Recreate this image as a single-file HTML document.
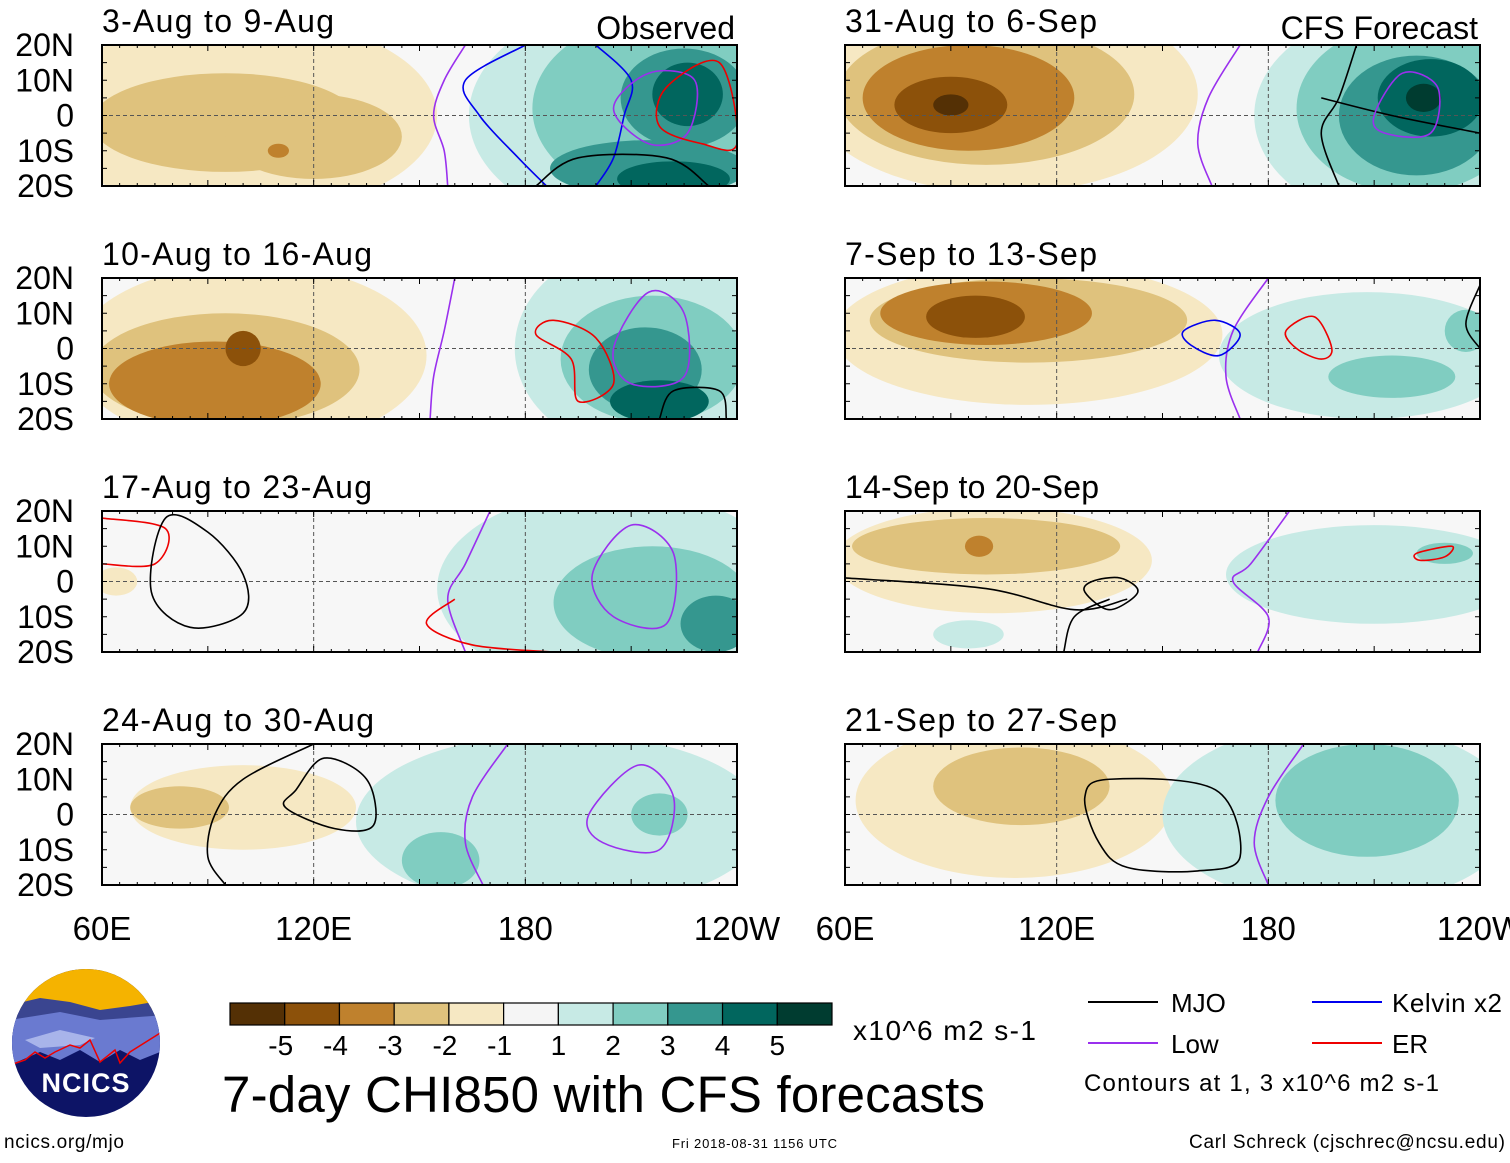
<!DOCTYPE html>
<html><head><meta charset="utf-8"><style>
html,body{margin:0;padding:0;background:#fff;}
svg text{font-family:"Liberation Sans",sans-serif;}
</style></head><body>
<svg id="chart" width="1510" height="1158" viewBox="0 0 1510 1158" xmlns="http://www.w3.org/2000/svg">
<defs id="defs"></defs>
<g id="panels"></g>

<g font-size="33" text-anchor="middle" id="lonlabels"></g>

<g>
  <clipPath id="logoclip"><circle cx="86" cy="1043" r="74"/></clipPath>
  <g clip-path="url(#logoclip)">
    <rect x="10" y="965" width="155" height="160" fill="#0d1466"/>
    <rect x="10" y="965" width="155" height="45" fill="#f5b300"/>
    <path d="M10 1005 L40 998 L70 1002 L100 1010 L130 1006 L165 1000 L165 1040 L10 1050Z" fill="#3a4590"/>
    <path d="M10 1020 L60 1012 L100 1020 L165 1015 L165 1050 L140 1060 L120 1050 L100 1062 L80 1050 L60 1060 L40 1052 L10 1065Z" fill="#6a7ad0"/>
    <path d="M25 1040 L60 1030 L95 1038 L80 1045 L40 1048Z" fill="#a8b4ea"/>
    <polyline points="10,1065 25,1060 35,1052 45,1058 55,1052 70,1045 80,1048 90,1040 100,1062 115,1050 120,1063 130,1052 165,1030" fill="none" stroke="#e00" stroke-width="1.5"/>
  </g>
  <text x="86" y="1092" font-size="27" font-weight="bold" fill="#fff" text-anchor="middle" letter-spacing="1">NCICS</text>
</g>
<text x="4" y="1148" font-size="19" textLength="120">ncics.org/mjo</text>

<g id="colorbar"></g>
<text x="853" y="1040" font-size="28" textLength="183">x10^6 m2 s-1</text>
<text x="222" y="1112" font-size="51" textLength="763">7-day CHI850 with CFS forecasts</text>
<text x="672" y="1148" font-size="13" textLength="165">Fri 2018-08-31 1156 UTC</text>
<text x="1189" y="1148" font-size="19" textLength="316">Carl Schreck (cjschrec@ncsu.edu)</text>

<g font-size="26">
  <g><line x1="1088" y1="1002" x2="1158" y2="1002" stroke="#000" stroke-width="2"/><text x="1171" y="1012">MJO</text></g>
  <g><line x1="1312" y1="1002" x2="1382" y2="1002" stroke="#0000ee" stroke-width="2"/><text x="1392" y="1012" textLength="110">Kelvin x2</text></g>
  <g><line x1="1088" y1="1043" x2="1158" y2="1043" stroke="#9a30ee" stroke-width="2"/><text x="1171" y="1053">Low</text></g>
  <g><line x1="1312" y1="1043" x2="1382" y2="1043" stroke="#ee0000" stroke-width="2"/><text x="1392" y="1053">ER</text></g>
  <text x="1084" y="1091" font-size="24" textLength="355">Contours at 1, 3 x10^6 m2 s-1</text>
</g>
</svg>
<script>
const levelColors = {"-5":"#543005","-4":"#8c510a","-3":"#bf812d","-2":"#dfc27d","-1":"#f6e8c3","1":"#c7eae5","2":"#80cdc1","3":"#35978f","4":"#01665e","5":"#003c30"};
const colorbarColors = ["#543005","#8c510a","#bf812d","#dfc27d","#f6e8c3","#f5f5f5","#c7eae5","#80cdc1","#35978f","#01665e","#003c30"];
const colorbarTicks = ["-5","-4","-3","-2","-1","1","2","3","4","5"];
const latTicks = ["20N","10N","0","10S","20S"];
const lonTicks = ["60E","120E","180","120W"];
const panelTitles = ["3-Aug to 9-Aug","10-Aug to 16-Aug","17-Aug to 23-Aug","24-Aug to 30-Aug","31-Aug to 6-Sep","7-Sep to 13-Sep","14-Sep to 20-Sep","21-Sep to 27-Sep"];
const titleWidths = [232,270,270,272,252,252,254,272];
// blobs: [lon, lat, rxDeg, ryDeg, level]
const blobs1 = [[100,0,55,28,-1],[95,-2,38,14,-2],[120,-6,25,12,-2],[110,-10,3,2,-3],[212,0,48,32,1],[218,2,36,26,2],[225,5,18,14,3],[215,-15,28,8,3],[222,-18,16,5,4],[226,6,10,9,4]];
const blobs2 = [[102,-2,50,26,-1],[95,-6,38,16,-2],[92,-10,30,12,-3],[100,0,5,5,-4],[215,0,38,30,1],[216,-3,26,18,2],[214,-6,16,12,3],[218,-15,14,6,4]];
const blobs3 = [[64,0,6,4,-1],[205,-2,50,28,1],[216,-6,28,16,2],[234,-12,10,8,3]];
const blobs4 = [[100,2,32,12,-1],[82,2,14,6,-2],[190,-2,58,25,1],[218,0,8,6,2],[156,-13,11,8,2]];
const blobs5 = [[105,6,55,28,-1],[100,6,42,20,-2],[95,5,30,15,-3],[90,3,16,8,-4],[90,3,5,3,-5],[218,0,42,30,1],[220,2,32,24,2],[222,0,22,17,3],[226,5,15,11,4],[224,5,5,4,5]];
const blobs6 = [[112,4,55,20,-1],[112,8,45,12,-2],[100,10,30,9,-3],[97,9,14,6,-4],[208,-2,42,18,1],[215,-8,18,6,2],[236,5,6,6,2]];
const blobs7 = [[102,6,45,15,-1],[100,10,38,8,-2],[98,10,4,3,-3],[210,2,42,14,1],[230,8,8,3,2],[95,-15,10,4,1]];
const blobs8 = [[108,4,45,22,-1],[110,8,25,11,-2],[200,0,50,26,1],[208,4,26,16,2]];
const blobsAll = [blobs1,blobs2,blobs3,blobs4,blobs5,blobs6,blobs7,blobs8];
// contours: [color, closed, [[lon,lat],...]]
const contours1 = [["#9a30ee",0,[[163,20],[157,10],[154,0],[157,-10],[158,-20]]],["#0000ee",0,[[180,20],[163,10],[167,0],[178,-12],[186,-20]]],["#0000ee",0,[[200,20],[210,10],[208,0],[205,-12],[200,-20]]],["#9a30ee",1,[[205,2],[215,12],[228,10],[226,-5],[215,-8]]],["#ee0000",1,[[235,15],[220,8],[218,-3],[230,-8],[240,-8]]],["#000",0,[[183,-20],[195,-12],[220,-12],[232,-20]]]];
const contours2 = [["#9a30ee",0,[[160,20],[157,5],[154,-8],[153,-20]]],["#ee0000",1,[[188,8],[200,3],[205,-10],[195,-15],[193,-3],[183,4]]],["#9a30ee",1,[[205,0],[215,16],[225,10],[225,-8],[210,-10]]],["#000",0,[[218,-20],[222,-12],[235,-12],[237,-20]]]];
const contours3 = [["#ee0000",0,[[60,18],[78,15],[75,5],[60,5]]],["#000",1,[[78,18],[90,14],[100,2],[100,-9],[85,-13],[74,-3]]],["#9a30ee",0,[[170,20],[163,5],[158,-5],[163,-20]]],["#ee0000",0,[[160,-5],[152,-12],[165,-18],[188,-20]]],["#9a30ee",1,[[199,2],[210,16],[222,8],[220,-12],[205,-10]]]];
const contours4 = [["#000",0,[[95,-20],[90,-12],[92,0],[100,10],[120,20]]],["#000",1,[[115,7],[123,16],[135,10],[137,-3],[126,-4],[112,2]]],["#9a30ee",0,[[175,20],[165,5],[163,-8],[168,-20]]],["#9a30ee",1,[[198,0],[212,14],[222,5],[218,-10],[202,-8]]]];
const contours5 = [["#9a30ee",0,[[172,20],[163,5],[160,-8],[164,-20]]],["#000",0,[[200,-20],[195,-5],[200,5],[205,20]]],["#000",0,[[195,5],[215,0],[240,-5]]],["#9a30ee",1,[[210,0],[218,12],[228,8],[226,-5],[213,-5]]]];
const contours6 = [["#9a30ee",0,[[180,20],[170,5],[168,-8],[172,-20]]],["#0000ee",1,[[156,5],[165,8],[172,4],[166,-2],[158,1]]],["#ee0000",1,[[185,5],[193,9],[198,0],[195,-3],[188,0]]],["#000",0,[[240,18],[236,7],[240,0]]]];
const contours7 = [["#000",0,[[60,1],[100,-2],[125,-8],[140,-5]]],["#000",1,[[130,0],[138,1],[143,-3],[135,-8],[128,-3]]],["#000",0,[[122,-20],[125,-10],[135,-5]]],["#9a30ee",0,[[186,20],[175,5],[170,0],[180,-10],[177,-20]]],["#ee0000",1,[[222,8],[232,10],[230,7],[223,6]]]];
const contours8 = [["#000",1,[[128,5],[135,10],[165,7],[172,-12],[160,-16],[140,-15],[132,-8]]],["#9a30ee",0,[[190,20],[180,5],[176,-8],[180,-20]]]];
const contoursAll = [contours1,contours2,contours3,contours4,contours5,contours6,contours7,contours8];

const svg = document.getElementById('chart');
const NS = "http://www.w3.org/2000/svg";
const W = 635, H = 141;
const colX = [102,845], rowY = [45,278,511,744];
function mk(tag, attrs){const e=document.createElementNS(NS,tag);for(const k in attrs)e.setAttribute(k,attrs[k]);return e;}
function xs(x0,lon){return x0+(lon-60)*W/180;}
function ys(y0,lat){return y0+(20-lat)*H/40;}
const panelsG = document.getElementById('panels');
const defs = document.getElementById('defs');
for(let p=0;p<8;p++){
  const x0 = colX[p<4?0:1], y0 = rowY[p%4];
  const g = mk('g',{});
  
  
  const cp = mk('clipPath',{id:'cp'+p}); cp.appendChild(mk('rect',{x:x0,y:y0,width:W,height:H})); defs.appendChild(cp);
  const inner = mk('g',{'clip-path':'url(#cp'+p+')'});
  inner.appendChild(mk('rect',{x:x0,y:y0,width:W,height:H,fill:'#f7f7f7'}));
  const blobs = blobsAll[p].slice().sort((a,b)=>Math.abs(a[4])-Math.abs(b[4]));
  blobs.forEach(b=>{
    const e = mk('ellipse',{cx:xs(x0,b[0]),cy:ys(y0,b[1]),rx:b[2]*W/180,ry:b[3]*H/40,fill:levelColors[String(b[4])]});
    
    
    inner.appendChild(e);
  });
  inner.appendChild(mk('line',{x1:x0,y1:ys(y0,0),x2:x0+W,y2:ys(y0,0),stroke:'#555','stroke-dasharray':'4,3','stroke-width':1}));
  [120,180].forEach(l=>inner.appendChild(mk('line',{x1:xs(x0,l),y1:y0,x2:xs(x0,l),y2:y0+H,stroke:'#555','stroke-dasharray':'4,3','stroke-width':1})));
  contoursAll[p].forEach(c=>{
    const pts = c[2].map(q=>[xs(x0,q[0]),ys(y0,q[1])]);
    let d='M'+pts[0].join(' ');
    const n=pts.length, closed=c[1];
    const get=i=>closed?pts[(i+n)%n]:pts[Math.max(0,Math.min(n-1,i))];
    const segs = closed?n:n-1;
    for(let i=0;i<segs;i++){
      const p0=get(i-1),p1=get(i),p2=get(i+1),p3=get(i+2);
      d+=' C'+(p1[0]+(p2[0]-p0[0])/6)+' '+(p1[1]+(p2[1]-p0[1])/6)+' '+(p2[0]-(p3[0]-p1[0])/6)+' '+(p2[1]-(p3[1]-p1[1])/6)+' '+p2[0]+' '+p2[1];
    }
    const e = mk('path',{d:d,fill:'none',stroke:c[0],'stroke-width':1.6});
    
    
    inner.appendChild(e);
  });
  g.appendChild(inner);
  g.appendChild(mk('rect',{x:x0,y:y0,width:W,height:H,fill:'none',stroke:'#000','stroke-width':2}));
  for(let l=60;l<=240;l+=5){const tx=xs(x0,l);const len=l%30==0?6:3;
    g.appendChild(mk('line',{x1:tx,y1:y0,x2:tx,y2:y0+len,stroke:'#000'}));
    g.appendChild(mk('line',{x1:tx,y1:y0+H,x2:tx,y2:y0+H-len,stroke:'#000'}));}
  for(let la=-20;la<=20;la+=5){const ty=ys(y0,la);
    g.appendChild(mk('line',{x1:x0,y1:ty,x2:x0+5,y2:ty,stroke:'#000'}));
    g.appendChild(mk('line',{x1:x0+W,y1:ty,x2:x0+W-5,y2:ty,stroke:'#000'}));}
  const t = mk('text',{x:x0,y:y0-13,'font-size':32,textLength:titleWidths[p]}); t.textContent=panelTitles[p];
    g.appendChild(t);
  if(p==0||p==4){const s=mk('text',{x:x0+W-2,y:y0-6,'font-size':32,'text-anchor':'end'});s.textContent=p==0?'Observed':'CFS Forecast';
      g.appendChild(s);}
  if(p<4){latTicks.forEach((lt,i)=>{const e=mk('text',{x:74,y:y0+i*H/4+11,'font-size':32,'text-anchor':'end'});e.textContent=lt;
      g.appendChild(e);});}
  panelsG.appendChild(g);
}
const ll = document.getElementById('lonlabels');
[0,1].forEach(c=>lonTicks.forEach((lt,i)=>{const e=mk('text',{x:colX[c]+i*60*W/180,y:940});e.textContent=lt;
    ll.appendChild(e);}));
const cb = document.getElementById('colorbar');
const bw = 602/colorbarColors.length;
colorbarColors.forEach((c,i)=>{const r=mk('rect',{x:230+i*bw,y:1003,width:bw,height:22,fill:c,stroke:'#000','stroke-width':1.2});
    cb.appendChild(r);});
colorbarTicks.forEach((t,i)=>{const e=mk('text',{x:230+(i+1)*bw-(t[0]=='-'?4:0),y:1055,'font-size':28,'text-anchor':'middle'});e.textContent=t;
    cb.appendChild(e);});
</script>
</body></html>
